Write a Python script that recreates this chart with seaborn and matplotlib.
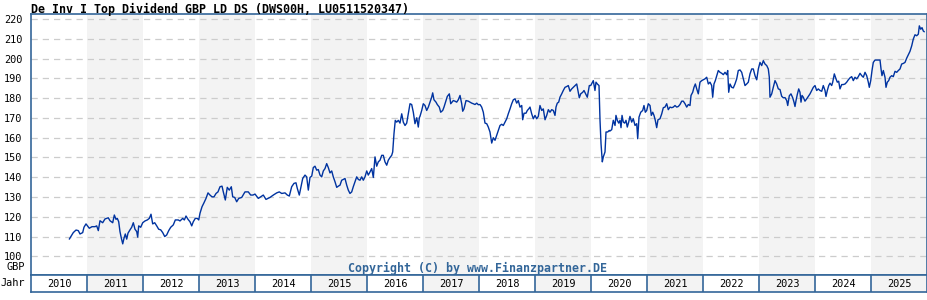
import matplotlib
matplotlib.use("Agg")
import matplotlib.pyplot as plt
import seaborn as sns
import pandas as pd

# ---------------- data ----------------
title = "De Inv I Top Dividend GBP LD DS (DWS00H, LU0511520347)"
year_labels = [str(y) for y in range(2010, 2026)]
ytick_values = list(range(100, 230, 10))

date_dec = [
    2010.684, 2010.755, 2010.804, 2010.845, 2010.875, 2010.923, 2010.946, 2010.982,
    2011.041, 2011.089, 2011.143, 2011.173, 2011.202, 2011.232, 2011.280, 2011.321,
    2011.380, 2011.411, 2011.459, 2011.488, 2011.518, 2011.541, 2011.566, 2011.589,
    2011.613, 2011.638, 2011.661, 2011.684, 2011.709, 2011.732, 2011.768, 2011.798,
    2011.827, 2011.857, 2011.888, 2011.905, 2011.923, 2011.959, 2011.995,
    2012.036, 2012.077, 2012.113, 2012.143, 2012.173, 2012.209, 2012.245, 2012.280,
    2012.316, 2012.352, 2012.388, 2012.423, 2012.459, 2012.495, 2012.541, 2012.577,
    2012.630, 2012.661, 2012.709, 2012.738, 2012.768, 2012.804, 2012.839, 2012.870,
    2012.898, 2012.934, 2012.970, 2012.995,
    2013.018, 2013.054, 2013.089, 2013.125, 2013.161, 2013.196, 2013.232, 2013.268,
    2013.304, 2013.339, 2013.375, 2013.411, 2013.434, 2013.470, 2013.505, 2013.541,
    2013.577, 2013.602, 2013.638, 2013.673, 2013.709, 2013.763, 2013.821, 2013.880,
    2013.923, 2013.964,
    2014.000, 2014.059, 2014.120, 2014.148, 2014.196, 2014.268, 2014.327, 2014.388,
    2014.434, 2014.477, 2014.536, 2014.577, 2014.613, 2014.655, 2014.696, 2014.732,
    2014.755, 2014.791, 2014.816, 2014.852, 2014.893, 2014.923, 2014.952, 2014.982,
    2015.013, 2015.041, 2015.071, 2015.102, 2015.130, 2015.161, 2015.191, 2015.220,
    2015.250, 2015.280, 2015.309, 2015.339, 2015.370, 2015.398, 2015.429, 2015.459,
    2015.488, 2015.518, 2015.548, 2015.577, 2015.607, 2015.638, 2015.666, 2015.696,
    2015.727, 2015.755, 2015.786, 2015.816, 2015.845, 2015.875, 2015.905, 2015.934,
    2015.964, 2015.995,
    2016.023, 2016.054, 2016.084, 2016.113, 2016.143, 2016.173, 2016.202, 2016.232,
    2016.263, 2016.291, 2016.321, 2016.352, 2016.380, 2016.411, 2016.441, 2016.459,
    2016.482, 2016.505, 2016.530, 2016.559, 2016.589, 2016.620, 2016.648, 2016.679,
    2016.709, 2016.738, 2016.768, 2016.798, 2016.827, 2016.857, 2016.888, 2016.916,
    2016.934, 2016.946, 2016.977,
    2017.005, 2017.036, 2017.066, 2017.095, 2017.125, 2017.155, 2017.173, 2017.196,
    2017.232, 2017.255, 2017.291, 2017.316, 2017.352, 2017.375, 2017.411, 2017.434,
    2017.470, 2017.495, 2017.518, 2017.541, 2017.571, 2017.602, 2017.630, 2017.661,
    2017.691, 2017.709, 2017.732, 2017.768, 2017.809, 2017.839, 2017.870, 2017.898,
    2017.929, 2017.959, 2017.988,
    2018.018, 2018.048, 2018.077, 2018.107, 2018.138, 2018.166, 2018.196, 2018.227,
    2018.255, 2018.286, 2018.316, 2018.345, 2018.375, 2018.405, 2018.434, 2018.464,
    2018.495, 2018.523, 2018.554, 2018.584, 2018.613, 2018.643, 2018.673, 2018.702,
    2018.732, 2018.763, 2018.780, 2018.804, 2018.839, 2018.863, 2018.888, 2018.911,
    2018.941, 2018.970,
    2019.000, 2019.030, 2019.059, 2019.089, 2019.120, 2019.148, 2019.179, 2019.209,
    2019.238, 2019.268, 2019.298, 2019.327, 2019.357, 2019.375, 2019.398, 2019.423,
    2019.446, 2019.477, 2019.505, 2019.536, 2019.566, 2019.595, 2019.625, 2019.655,
    2019.684, 2019.714, 2019.745, 2019.773, 2019.791, 2019.816, 2019.852, 2019.875,
    2019.905, 2019.934, 2019.970, 2019.995,
    2020.018, 2020.041, 2020.071, 2020.089, 2020.113, 2020.143, 2020.161, 2020.179,
    2020.202, 2020.220, 2020.250, 2020.268, 2020.298, 2020.327, 2020.339, 2020.370,
    2020.398, 2020.429, 2020.446, 2020.470, 2020.495, 2020.518, 2020.536, 2020.554,
    2020.577, 2020.602, 2020.625, 2020.648, 2020.673, 2020.696, 2020.727, 2020.755,
    2020.786, 2020.816, 2020.834, 2020.857, 2020.888, 2020.923, 2020.946, 2020.970,
    2020.995,
    2021.023, 2021.054, 2021.077, 2021.102, 2021.125, 2021.148, 2021.173, 2021.196,
    2021.232, 2021.263, 2021.291, 2021.321, 2021.352, 2021.380, 2021.411, 2021.441,
    2021.470, 2021.500, 2021.530, 2021.559, 2021.589, 2021.620, 2021.648, 2021.679,
    2021.709, 2021.738, 2021.768, 2021.786, 2021.816, 2021.839, 2021.863, 2021.888,
    2021.916, 2021.946, 2021.977,
    2022.005, 2022.036, 2022.066, 2022.095, 2022.125, 2022.155, 2022.173, 2022.196,
    2022.220, 2022.245, 2022.273, 2022.304, 2022.334, 2022.363, 2022.393, 2022.423,
    2022.441, 2022.459, 2022.482, 2022.513, 2022.541, 2022.571, 2022.602, 2022.630,
    2022.661, 2022.691, 2022.720, 2022.750, 2022.780, 2022.809, 2022.839, 2022.870,
    2022.898, 2022.929, 2022.959, 2022.988,
    2023.018, 2023.048, 2023.077, 2023.107, 2023.138, 2023.166, 2023.184, 2023.196,
    2023.227, 2023.255, 2023.286, 2023.316, 2023.345, 2023.375, 2023.405, 2023.434,
    2023.464, 2023.495, 2023.513, 2023.541, 2023.571, 2023.602, 2023.625, 2023.643,
    2023.661, 2023.684, 2023.709, 2023.732, 2023.750, 2023.768, 2023.791, 2023.821,
    2023.852, 2023.880, 2023.911, 2023.941, 2023.970,
    2024.000, 2024.030, 2024.059, 2024.089, 2024.120, 2024.148, 2024.179, 2024.196,
    2024.220, 2024.245, 2024.268, 2024.298, 2024.316, 2024.345, 2024.375, 2024.398,
    2024.423, 2024.446, 2024.477, 2024.505, 2024.536, 2024.566, 2024.595, 2024.625,
    2024.655, 2024.684, 2024.714, 2024.745, 2024.773, 2024.804, 2024.834, 2024.863,
    2024.893, 2024.923, 2024.952, 2024.970, 2024.995,
    2025.018, 2025.041, 2025.071, 2025.102, 2025.130, 2025.161, 2025.179, 2025.196,
    2025.220, 2025.250, 2025.268, 2025.291, 2025.316, 2025.339, 2025.370, 2025.398,
    2025.429, 2025.459, 2025.488, 2025.518, 2025.548, 2025.577, 2025.607, 2025.638,
    2025.666, 2025.696, 2025.727, 2025.755, 2025.786, 2025.816, 2025.845, 2025.863,
    2025.888, 2025.911, 2025.934, 2025.952,
]

price = [
    108.7, 112.0, 113.3, 113.0, 111.3, 112.0, 114.7, 116.4,
    114.2, 115.0, 115.0, 115.4, 113.0, 118.0, 117.0, 118.9,
    119.5, 118.0, 117.0, 120.9, 118.7, 119.2, 117.5, 112.5,
    109.2, 106.3, 109.2, 111.3, 108.7, 111.7, 113.4, 114.7,
    117.0, 113.7, 112.5, 109.7, 115.4, 114.7, 117.0,
    117.9, 118.4, 119.2, 121.3, 116.4, 117.0, 115.4, 113.7,
    113.4, 112.0, 110.0, 110.8, 113.0, 114.7, 115.9, 118.4,
    118.4, 117.9, 119.2, 118.4, 120.4, 118.7, 117.5, 115.4,
    117.5, 119.2, 119.2, 118.4,
    121.8, 125.1, 127.1, 129.3, 132.1, 131.0, 130.1, 130.1,
    131.8, 132.6, 135.2, 135.5, 132.6, 128.5, 134.9, 133.5,
    135.2, 130.1, 129.8, 127.6, 129.3, 129.8, 132.6, 132.6,
    131.0, 131.0,
    131.5, 129.3, 130.5, 131.0, 128.8, 129.8, 131.0, 132.1,
    132.6, 131.8, 132.1, 131.0, 130.5, 135.2, 136.9, 137.2,
    134.4, 131.0, 134.4, 139.4, 141.1, 140.2, 133.5, 139.9,
    140.6, 144.9, 145.6, 143.6, 143.9, 141.1, 140.2, 143.2,
    144.4, 146.9, 144.9, 142.2, 143.2, 140.2, 137.7, 134.9,
    135.5, 136.0, 138.5, 138.9, 139.4, 136.0, 133.5, 131.8,
    132.6, 135.2, 137.7, 140.2, 138.9, 138.5, 140.2, 138.5,
    140.2, 143.2,
    141.1, 142.7, 144.4, 139.9, 150.3, 145.6, 147.8, 148.6,
    151.1, 151.1, 147.8, 146.1, 148.6, 150.0, 151.1, 152.8,
    162.1, 168.8, 167.9, 168.8, 167.4, 172.1, 167.9, 166.2,
    167.4, 172.1, 177.2, 176.8, 172.9, 167.1, 170.1, 165.4,
    170.1, 170.8, 173.8,
    177.2, 176.3, 173.8, 175.5, 178.0, 180.5, 182.7, 179.2,
    178.0, 176.8, 175.5, 172.9, 173.8, 175.5, 178.8, 180.9,
    182.2, 177.2, 178.0, 178.8, 178.5, 178.0, 179.2, 181.4,
    177.2, 173.4, 174.6, 178.8, 178.5, 178.0, 177.5, 177.2,
    176.8, 177.5, 176.7,
    176.8, 175.5, 172.9, 167.4, 167.1, 165.4, 162.9, 157.3,
    160.0, 158.7, 161.2, 163.7, 166.2, 166.8, 166.2, 167.9,
    169.6, 172.1, 174.6, 177.2, 179.2, 179.7, 177.5, 178.8,
    175.5, 176.3, 169.1, 172.4, 172.4, 173.8, 174.6, 175.5,
    172.1, 169.6,
    171.3, 169.6, 170.8, 176.3, 173.8, 174.6, 169.1, 171.3,
    174.2, 172.9, 174.2, 173.8, 171.3, 175.5, 177.5, 178.0,
    180.5, 182.2, 183.9, 185.5, 185.9, 186.4, 183.5, 184.7,
    185.5, 186.4, 187.2, 183.0, 180.2, 182.2, 183.0, 183.9,
    182.2, 180.5, 186.4, 186.4,
    187.6, 188.9, 183.9, 188.1, 187.2, 186.4, 168.8, 157.0,
    147.8, 150.3, 152.8, 162.9, 162.9, 163.7, 163.4, 164.1,
    168.8, 166.2, 171.3, 168.8, 167.4, 168.8, 165.1, 171.3,
    167.9, 167.4, 168.8, 165.4, 167.9, 170.8, 167.9, 169.6,
    166.2, 167.1, 159.5, 170.4, 172.9, 173.8, 176.3, 172.9,
    173.8,
    177.2, 176.3, 171.3, 172.9, 171.3, 168.8, 165.1, 169.1,
    169.6, 172.1, 175.2, 175.5, 177.2, 174.2, 175.5, 175.2,
    175.5, 176.3, 175.5, 175.8, 176.8, 178.5, 178.5, 177.2,
    175.5, 176.8, 176.3, 181.4, 183.0, 185.5, 187.2, 184.7,
    182.2, 188.1, 188.9,
    189.3, 189.8, 190.6, 187.2, 188.1, 186.4, 180.5, 187.2,
    188.9, 191.4, 194.0, 193.1, 192.6, 191.9, 193.1, 191.9,
    194.0, 183.0, 187.2, 185.5, 185.2, 187.2, 189.8, 194.0,
    194.3, 193.1, 189.8, 186.4, 187.2, 188.1, 192.3, 194.8,
    194.8, 191.4, 189.3, 194.8,
    198.1, 196.5, 199.0, 197.3, 196.5, 194.8, 190.6, 180.5,
    182.2, 185.5, 188.9, 187.2, 184.7, 184.4, 181.0, 180.2,
    180.3, 178.8, 176.3, 181.2, 182.2, 180.2, 178.0, 175.8,
    178.8, 181.9, 184.7, 183.0, 178.0, 181.4, 180.5, 178.5,
    179.7, 180.9, 182.2, 183.9, 185.5,
    186.4, 183.9, 184.7, 183.9, 183.5, 186.4, 183.9, 180.9,
    183.9, 186.4, 187.6, 186.4, 188.1, 192.3, 189.8, 188.1,
    188.6, 184.7, 186.9, 186.9, 187.2, 188.1, 189.3, 190.3,
    190.9, 188.9, 190.6, 189.8, 190.9, 192.6, 191.4, 190.6,
    193.1, 191.4, 188.1, 185.5, 188.9,
    194.0, 198.1, 199.3, 199.3, 199.3, 199.3, 194.8, 191.4,
    194.0, 190.6, 185.5, 188.1, 188.9, 190.6, 191.4, 190.9,
    193.6, 193.1, 194.0, 194.8, 197.3, 197.6, 198.1, 200.3,
    202.0, 203.7, 206.5, 209.9, 212.1, 211.6, 212.4, 216.6,
    214.9, 215.7, 214.0, 213.6,
]

df = pd.DataFrame({"date": date_dec, "price": price})

# ---------------- style ----------------
sns.set_theme(style="white")
plt.rcParams["font.family"] = ["DejaVu Sans Mono", "DejaVu Sans"]

W, H = 928, 300
fig = plt.figure(figsize=(W / 100, H / 100), dpi=100)
fig.patch.set_facecolor("white")

frame_col = "#336699"
line_col = "#0033a0"
shade_col = "#f3f3f3"
grid_col = "#cccccc"

left_px, right_px = 31, 927
top_px, plot_bot_px, band_bot_px = 14, 275, 292

ax = fig.add_axes([left_px / W, 1 - plot_bot_px / H,
                   (right_px - left_px) / W, (plot_bot_px - top_px) / H])
axy = fig.add_axes([left_px / W, 1 - band_bot_px / H,
                    (right_px - left_px) / W, (band_bot_px - plot_bot_px) / H])

x0, x1 = 2010, 2026
for a in (ax, axy):
    a.set_xlim(x0, x1)
    a.set_facecolor("white")
    for yr in range(2011, 2026, 2):
        a.axvspan(yr, yr + 1, color=shade_col, lw=0, zorder=0)
    for s in a.spines.values():
        s.set_color(frame_col)
        s.set_linewidth(1.2)

# main plot
ax.set_ylim(90.55, 222.6)
ax.set_yticks(ytick_values)
ax.set_yticklabels([str(v) for v in ytick_values], fontsize=7.4, color="black")
ax.tick_params(axis="y", length=0, pad=6)
ax.set_xticks([])
for v in ytick_values:
    ax.axhline(v, color=grid_col, lw=0.9, ls=(0, (5, 4)), zorder=1)

sns.lineplot(data=df, x="date", y="price", ax=ax, color=line_col,
             linewidth=1.0, estimator=None, sort=False, zorder=3)
ax.set_xlabel("")
ax.set_ylabel("")

# year band
axy.set_ylim(0, 1)
axy.set_yticks([])
axy.set_xticks([])
for yr in range(2011, 2026):
    axy.axvline(yr, color=frame_col, lw=1.2)
for i, lab in enumerate(year_labels):
    axy.text(2010 + i + 0.5, 0.45, lab, ha="center", va="center",
             fontsize=7.4, color="black")

# texts
fig.text(left_px / W, 1 - 9 / H, title, ha="left", va="center",
         fontsize=8.4, fontweight="bold", color="black")
fig.text(25 / W, 1 - 267.5 / H, "GBP", ha="right", va="center",
         fontsize=7.4, color="black")
fig.text(25 / W, 1 - 283.5 / H, "Jahr", ha="right", va="center",
         fontsize=7.4, color="black")
fig.text(478 / W, 1 - 268 / H, "Copyright (C) by www.Finanzpartner.DE",
         ha="center", va="center", fontsize=8.4, fontweight="bold",
         color=frame_col)

fig.savefig("out.png", dpi=100, facecolor="white")
